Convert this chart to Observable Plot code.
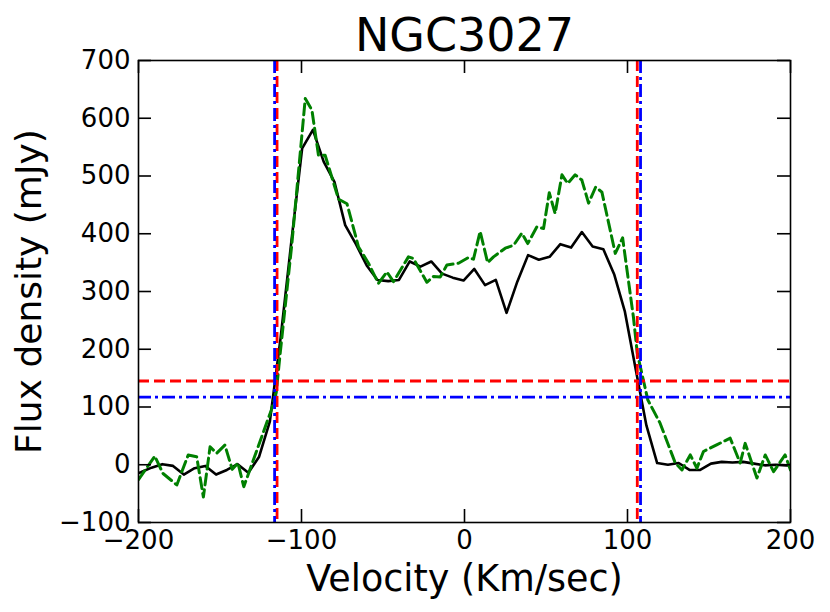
<!DOCTYPE html>
<html><head><meta charset="utf-8">
<script src="https://cdn.jsdelivr.net/npm/d3@7"></script>
<script src="https://cdn.jsdelivr.net/npm/@observablehq/plot@0.6"></script>
<style>body{margin:0;background:#fff} svg{font-family:"DejaVu Sans",sans-serif}</style>
</head><body><div id="chart"></div>
<script>
const title = "NGC3027";
const xLabel = "Velocity (Km/sec)";
const yLabel = "Flux density (mJy)";
const xTicks = [-200, -100, 0, 100, 200];
const yTicks = [-100, 0, 100, 200, 300, 400, 500, 600, 700];

// observed spectrum (black solid)
const obsVel = [-205.2, -198.6, -192, -185.4, -178.8, -172.2, -165.6, -159, -152.4, -145.8, -139.2, -132.6, -126, -119.4, -112.8, -106.2, -99.6, -93, -86.4, -79.8, -73.2, -66.6, -60, -53.4, -46.8, -40.2, -33.6, -27, -20.4, -13.8, -7.2, -0.6, 6, 12.6, 19.2, 25.8, 32.4, 39, 45.6, 52.2, 58.8, 65.4, 72, 78.6, 85.2, 91.8, 98.4, 105, 111.6, 118.2, 124.8, 131.4, 138, 144.6, 151.2, 157.8, 164.4, 171, 177.6, 184.2, 190.8, 197.4, 204];
const obsFlux = [-20, -13, -5, 1, -2, -17, -6, -2, -17, -9, 1, -14, 14, 75, 220, 387, 548, 580, 525, 490, 415, 382, 345, 320, 318, 320, 352, 343, 352, 331, 324, 319, 339, 311, 320, 263, 317, 363, 355, 360, 382, 376, 403, 378, 373, 330, 265, 166, 68, 3, 0, 3, -9, -9, 2, 5, 4, 5, 2, -1, 0, -1, -2];

// second spectrum (green dashed)
const modelVel = [-200, -190, -185, -176.5, -169.5, -164.3, -160.2, -156.1, -152, -147, -142.5, -139, -135.4, -118.5, -115.5, -113, -106, -97.7, -93.6, -89.6, -85.5, -77.3, -72.1, -65, -58.9, -52.8, -47.6, -43.6, -34.4, -31.3, -23.1, -19, -14.9, -10.8, -3.7, 2.5, 5.5, 9.6, 14.2, 17.8, 25, 30.1, 35.2, 38.8, 44.4, 48.5, 52, 55.6, 59.8, 63.3, 67.9, 72, 76.1, 80.5, 84.3, 92.5, 97, 103.7, 106, 112.5, 120, 129.3, 133.4, 138.5, 142.6, 146.6, 155, 163, 169.1, 172.2, 179.4, 184.5, 189.6, 196.7, 200];
const modelFlux = [-26, 15, -15, -35, 17, 14, -56, 31, 20, 34, -8, 3, -38, 95, 125, 195, 380, 634, 614, 536, 536, 460, 452, 377, 349, 314, 334, 317, 360, 357, 316, 326, 325, 346, 349, 359, 356, 404, 350, 360, 375, 380, 401, 383, 412, 409, 471, 435, 502, 487, 502, 493, 453, 481, 472, 366, 393, 254, 193, 112, 72, 3, -9, 17, -6, 23, 35, 46, 3, 37, -23, 17, -12, 17, -9];

const redLevel = [145];
const blueLevel = [117];
const redEdges = [-115, 106];
const blueEdges = [-116.5, 108];

const obs = obsVel.map((v, i) => ({v, f: obsFlux[i]}));
const model = modelVel.map((v, i) => ({v, f: modelFlux[i]}));

const W = 830, H = 612, mL = 138, mR = 40, mT = 60, mB = 90;
const fw = W - mL - mR, fh = H - mT - mB;
const tk = 13;

const plot = Plot.plot({
  width: W, height: H,
  marginLeft: mL, marginRight: mR, marginTop: mT, marginBottom: mB,
  style: {fontFamily: "DejaVu Sans", background: "white", color: "black"},
  x: {domain: [-200, 200]},
  y: {domain: [-100, 700]},
  marks: [
    Plot.line(obs, {x: "v", y: "f", stroke: "black", strokeWidth: 2.6, clip: true}),
    Plot.line(model, {x: "v", y: "f", stroke: "green", strokeWidth: 3, strokeDasharray: "11,5", clip: true}),
    Plot.ruleY(redLevel, {stroke: "red", strokeWidth: 2.8, strokeDasharray: "11,5"}),
    Plot.ruleY(blueLevel, {stroke: "blue", strokeWidth: 2.8, strokeDasharray: "13,4,3,4"}),
    Plot.ruleX(redEdges, {stroke: "red", strokeWidth: 2.8, strokeDasharray: "11,5"}),
    Plot.ruleX(blueEdges, {stroke: "blue", strokeWidth: 2.8, strokeDasharray: "13,4,3,4"}),
    Plot.tickX(xTicks, {x: d => d, insetTop: fh - tk, stroke: "black", strokeWidth: 1.6}),
    Plot.tickX(xTicks, {x: d => d, insetBottom: fh - tk, stroke: "black", strokeWidth: 1.6}),
    Plot.tickY(yTicks, {y: d => d, insetRight: fw - tk, stroke: "black", strokeWidth: 1.6}),
    Plot.tickY(yTicks, {y: d => d, insetLeft: fw - tk, stroke: "black", strokeWidth: 1.6}),
    Plot.axisX(xTicks, {tickSize: 0, tickPadding: 8, fontSize: 26, label: null}),
    Plot.axisY(yTicks, {tickSize: 0, tickPadding: 8, fontSize: 26, label: null}),
    Plot.frame({stroke: "black", strokeWidth: 1.6}),
    Plot.text([title], {frameAnchor: "top", dy: -10, lineAnchor: "bottom", fontSize: 46, fill: "black"}),
    Plot.text([xLabel], {frameAnchor: "bottom", dy: 68, lineAnchor: "bottom", fontSize: 36.5, fill: "black"}),
    Plot.text([yLabel], {frameAnchor: "left", dx: -98, rotate: -90, textAnchor: "middle", lineAnchor: "bottom", fontSize: 36, fill: "black"})
  ]
});
document.getElementById("chart").appendChild(plot);
</script>
</body></html>
